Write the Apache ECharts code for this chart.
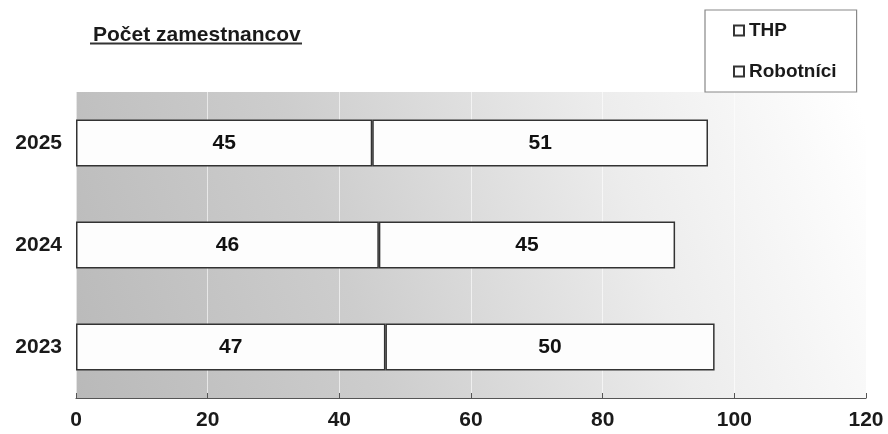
<!DOCTYPE html>
<html>
<head>
<meta charset="utf-8">
<script src="https://cdn.jsdelivr.net/npm/echarts@6/dist/echarts.min.js"></script>
<style>
  html, body { margin: 0; padding: 0; background: #fff; }
  #chart { width: 888px; height: 434px; }
</style>
</head>
<body>
<div id="chart"></div>
<script>
var years = ['2023', '2024', '2025'];
var thp = [47, 46, 45];
var robotnici = [50, 45, 51];
var xTicks = [0, 20, 40, 60, 80, 100, 120];

var font = '"Liberation Sans", Arial, sans-serif';

var chart = echarts.init(document.getElementById('chart'));

var barStyle = {
    color: '#fdfdfd',
    borderColor: '#333',
    borderWidth: 1.5
};
var barLabel = {
    show: true,
    position: 'inside',
    color: '#111',
    fontFamily: font,
    fontWeight: 'bold',
    fontSize: 21
};

chart.setOption({
    animation: false,
    title: {
        text: 'Počet zamestnancov',
        left: 88,
        top: 20,
        textStyle: {
            fontFamily: font,
            fontWeight: 'bold',
            fontSize: 21,
            color: '#1a1a1a'
        }
    },
    graphic: [
        {
            type: 'line',
            shape: {x1: 90, y1: 43.5, x2: 302, y2: 43.5},
            style: {stroke: '#333', lineWidth: 2}
        }
    ],
    legend: {
        orient: 'vertical',
        left: 705,
        top: 10,
        padding: [11, 20, 11, 28],
        itemGap: 22,
        itemWidth: 10,
        itemHeight: 10,
        icon: 'rect',
        borderColor: '#888',
        borderWidth: 1.2,
        textStyle: {
            fontFamily: font,
            fontWeight: 'bold',
            fontSize: 19,
            color: '#1a1a1a'
        },
        data: ['THP', 'Robotníci']
    },
    grid: {
        left: 76,
        right: 22,
        top: 92,
        bottom: 36,
        show: true,
        borderWidth: 0,
        backgroundColor: new echarts.graphic.LinearGradient(0, 1, 1, 0.1, [
            {offset: 0, color: '#b9b9b9'},
            {offset: 0.35, color: '#cdcdcd'},
            {offset: 0.7, color: '#ececec'},
            {offset: 1, color: '#ffffff'}
        ])
    },
    xAxis: {
        type: 'value',
        min: xTicks[0],
        max: xTicks[xTicks.length - 1],
        interval: 20,
        axisLine: {show: true, lineStyle: {color: '#555', width: 1.2}},
        axisTick: {show: true, inside: true, length: 5, lineStyle: {color: '#555'}},
        splitLine: {show: true, lineStyle: {color: 'rgba(255,255,255,0.6)', width: 1}},
        axisLabel: {
            margin: 12,
            fontFamily: font,
            fontWeight: 'bold',
            fontSize: 21,
            color: '#1a1a1a'
        }
    },
    yAxis: {
        type: 'category',
        data: years,
        axisLine: {show: false},
        axisTick: {show: false},
        axisLabel: {
            margin: 14,
            fontFamily: font,
            fontWeight: 'bold',
            fontSize: 21,
            color: '#1a1a1a'
        }
    },
    series: [
        {
            name: 'THP',
            type: 'bar',
            stack: 'total',
            barWidth: 47,
            itemStyle: barStyle,
            label: barLabel,
            data: thp
        },
        {
            name: 'Robotníci',
            type: 'bar',
            stack: 'total',
            barWidth: 47,
            itemStyle: barStyle,
            label: barLabel,
            data: robotnici
        }
    ]
});
</script>
</body>
</html>
